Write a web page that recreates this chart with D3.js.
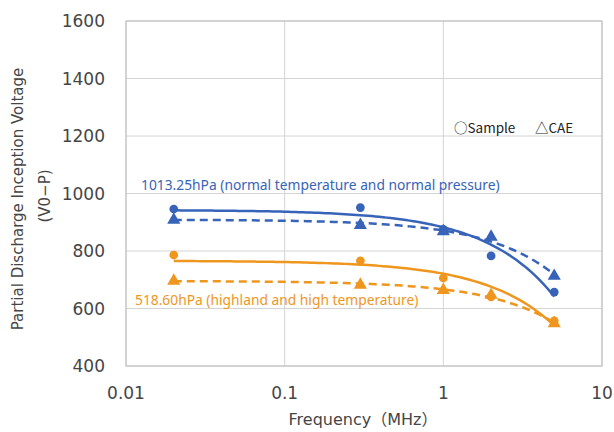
<!DOCTYPE html>
<html>
<head>
<meta charset="utf-8">
<script src="https://cdn.jsdelivr.net/npm/d3@7"></script>
<style>
  body { margin: 0; background: #fff; }
  .tick-label { font-family: "DejaVu Sans", sans-serif; font-size: 17px; fill: #454545; }
  .axis-title { font-family: "DejaVu Sans", "Noto Sans CJK JP", sans-serif; font-size: 15px; fill: #454545; }
  .note { font-family: "Noto Sans", sans-serif; font-size: 13.8px; }
  .legend { font-family: "Noto Sans CJK JP", sans-serif; font-size: 13.5px; fill: #222; }
</style>
</head>
<body>
<div class="chart"></div>
<script>
/* Global Constants
============================================= */
const SVG_WIDTH = 614;
const SVG_HEIGHT = 432;

const BLUE = "#3763b8";
const ORANGE = "#ef961f";

// data
const frequencies = [0.02, 0.3, 1, 2, 5];
const normalSample = [946, 951, 875, 783, 657];
const normalCAE = [908, 890, 868, 849, 713];
const highlandSample = [786, 766, 706, 640, 557];
const highlandCAE = [696, 682, 664, 647, 548];

const xTicks = [0.01, 0.1, 1, 10];
const xTickLabels = ["0.01", "0.1", "1", "10"];
const yTicks = [400, 600, 800, 1000, 1200, 1400, 1600];

const series = [
    { values: normalSample, color: BLUE, marker: "circle", dashed: false },
    { values: normalCAE, color: BLUE, marker: "triangle", dashed: true },
    { values: highlandSample, color: ORANGE, marker: "circle", dashed: false },
    { values: highlandCAE, color: ORANGE, marker: "triangle", dashed: true }
];

var margin = { top: 21, bottom: 66, left: 126, right: 12 };
var width = SVG_WIDTH - margin.left - margin.right;
var height = SVG_HEIGHT - margin.top - margin.bottom;

var svg = d3.select(".chart")
    .append("svg")
    .attr("width", SVG_WIDTH)
    .attr("height", SVG_HEIGHT);

var chart = svg.append("g")
    .attr("transform", `translate(${margin.left}, ${margin.top})`);

var xScale = d3.scaleLog().domain([0.01, 10]).range([0, width]);
var yScale = d3.scaleLinear().domain([400, 1600]).range([height, 0]);

// grid
chart.append("g")
    .selectAll("line")
    .data(xTicks)
    .enter()
    .append("line")
    .attr("x1", d => xScale(d))
    .attr("x2", d => xScale(d))
    .attr("y1", 0)
    .attr("y2", height)
    .attr("stroke", "#d4d4d4")
    .attr("stroke-width", 1);

chart.append("g")
    .selectAll("line")
    .data(yTicks)
    .enter()
    .append("line")
    .attr("x1", 0)
    .attr("x2", width)
    .attr("y1", d => yScale(d))
    .attr("y2", d => yScale(d))
    .attr("stroke", "#d4d4d4")
    .attr("stroke-width", 1);

chart.append("rect")
    .attr("width", width)
    .attr("height", height)
    .attr("fill", "none")
    .attr("stroke", "#c4c4c4")
    .attr("stroke-width", 1.2);

// tick labels
chart.append("g")
    .selectAll("text")
    .data(xTicks)
    .enter()
    .append("text")
    .attr("class", "tick-label")
    .attr("x", d => xScale(d))
    .attr("y", height + 33)
    .attr("text-anchor", "middle")
    .text((d, i) => xTickLabels[i]);

chart.append("g")
    .selectAll("text")
    .data(yTicks)
    .enter()
    .append("text")
    .attr("class", "tick-label")
    .attr("x", -21)
    .attr("y", d => yScale(d) + 6)
    .attr("text-anchor", "end")
    .text(d => d);

// axis titles
svg.append("text")
    .attr("class", "axis-title")
    .attr("x", 363)
    .attr("y", 425)
    .attr("text-anchor", "middle")
    .style("font-size", "16px")
    .text("Frequency（MHz）");

svg.append("text")
    .attr("class", "axis-title")
    .attr("transform", "translate(23, 199) rotate(-90)")
    .attr("text-anchor", "middle")
    .text("Partial Discharge Inception Voltage");

svg.append("text")
    .attr("class", "axis-title")
    .attr("transform", "translate(50, 196) rotate(-90)")
    .attr("text-anchor", "middle")
    .text("(V0−P)");

/*
 * least squares linear trend (linear in frequency)
 */
function linearFit(xs, ys) {
    var mx = d3.mean(xs), my = d3.mean(ys);
    var sxy = d3.sum(xs, (x, i) => (x - mx) * (ys[i] - my));
    var sxx = d3.sum(xs, x => (x - mx) * (x - mx));
    var b = sxy / sxx;
    var a = my - b * mx;
    return x => a + b * x;
}

var line = d3.line()
    .x(d => xScale(d[0]))
    .y(d => yScale(d[1]));

var sampleXs = d3.range(0, 101).map(i =>
    Math.pow(10, Math.log10(frequencies[0]) + i / 100 * (Math.log10(frequencies[4]) - Math.log10(frequencies[0]))));

series.forEach(function(s) {
    var fit = linearFit(frequencies, s.values);
    chart.append("path")
        .datum(sampleXs.map(x => [x, fit(x)]))
        .attr("d", line)
        .attr("fill", "none")
        .attr("stroke", s.color)
        .attr("stroke-width", 2.5)
        .attr("stroke-dasharray", s.dashed ? "8,5" : null);

    var sym = d3.symbol()
        .type(s.marker === "circle" ? d3.symbolCircle : d3.symbolTriangle)
        .size(s.marker === "circle" ? 60 : 75);

    chart.append("g")
        .selectAll("path")
        .data(s.values)
        .enter()
        .append("path")
        .attr("d", sym)
        .attr("transform", (d, i) => `translate(${xScale(frequencies[i])}, ${yScale(d)})`)
        .attr("fill", s.color);
});

// annotations
svg.append("text")
    .attr("class", "note")
    .attr("x", 141)
    .attr("y", 190)
    .attr("fill", BLUE)
    .text("1013.25hPa (normal temperature and normal pressure)");

svg.append("text")
    .attr("class", "note")
    .attr("x", 135)
    .attr("y", 305)
    .attr("fill", ORANGE)
    .text("518.60hPa (highland and high temperature)");

svg.append("text")
    .attr("class", "legend")
    .attr("x", 454)
    .attr("y", 133)
    .text("○Sample");

svg.append("text")
    .attr("class", "legend")
    .attr("x", 535)
    .attr("y", 133)
    .text("△CAE");
</script>
</body>
</html>
